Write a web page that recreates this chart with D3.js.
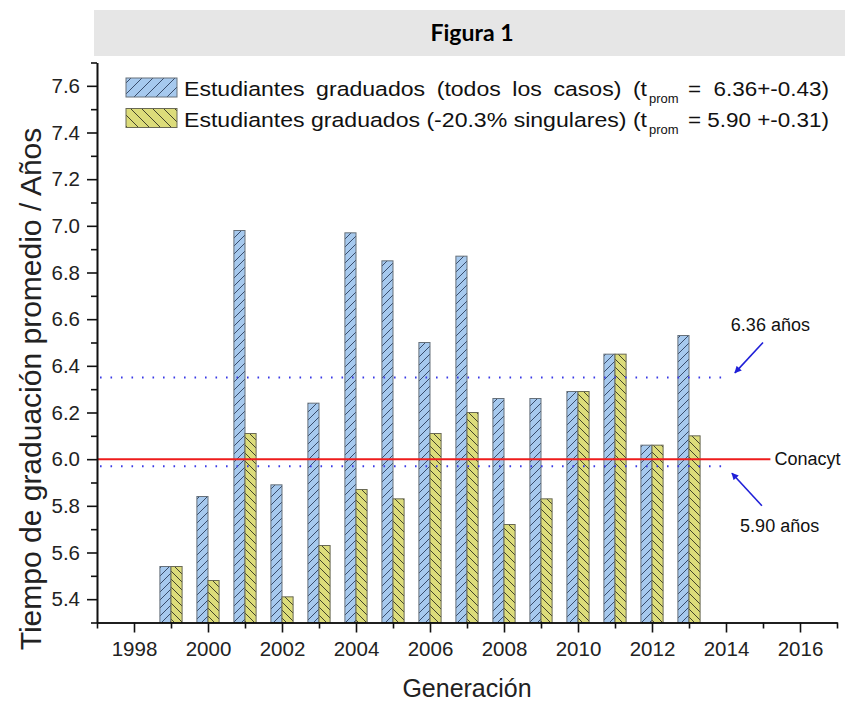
<!DOCTYPE html>
<html>
<head>
<meta charset="utf-8">
<script src="https://cdn.jsdelivr.net/npm/d3@7"></script>
<style>
  body { margin: 0; background: #fff; }
  svg { display: block; }
  text { font-family: "Liberation Sans", Arial, sans-serif; }
</style>
</head>
<body>
<svg id="chart"></svg>
<script>
// data
var years = [1999, 2000, 2001, 2002, 2003, 2004, 2005, 2006, 2007, 2008, 2009, 2010, 2011, 2012, 2013];
var todosLosCasos = [5.54, 5.84, 6.98, 5.89, 6.24, 6.97, 6.85, 6.50, 6.87, 6.26, 6.26, 6.29, 6.45, 6.06, 6.53];
var sinSingulares = [5.54, 5.48, 6.11, 5.41, 5.63, 5.87, 5.83, 6.11, 6.20, 5.72, 5.83, 6.29, 6.45, 6.06, 6.10];
var xTicks = [1998, 2000, 2002, 2004, 2006, 2008, 2010, 2012, 2014, 2016];
var xMinor = [1997, 1999, 2001, 2003, 2005, 2007, 2009, 2011, 2013, 2015, 2017];
var yTicks = [5.4, 5.6, 5.8, 6.0, 6.2, 6.4, 6.6, 6.8, 7.0, 7.2, 7.4, 7.6];
var yMinor = [5.3, 5.5, 5.7, 5.9, 6.1, 6.3, 6.5, 6.7, 6.9, 7.1, 7.3, 7.5, 7.7];
var conacyt = 6.0;
var promLines = [6.35, 5.97];
var legendLabels = [
    ['Estudiantes graduados (todos los casos) (t', 'prom', '= 6.36+-0.43)'],
    ['Estudiantes graduados (-20.3% singulares) (t', 'prom', '= 5.90 +-0.31)']
];
// annotations: [label, label year, label value, arrow from year/value, arrow to year/value]
var notes = [
    ['6.36 años', 2015.2, 6.55, 2015.0, 6.50, 2014.24, 6.37],
    ['5.90 años', 2015.45, 5.69, 2014.97, 5.80, 2014.16, 5.94]
];

var width = 845;
var height = 701;
var blue = '#a6c9ee';
var yellow = '#dcdc7a';

var svg = d3.select('#chart')
    .attr('width', width)
    .attr('height', height);

var x = d3.scaleLinear()
    .domain([1997, 2017])
    .range([97, 837]);

var y = d3.scaleLinear()
    .domain([5.3, 7.7])
    .range([622.5, 62.5]);

var defs = svg.append('defs');

function hatch(id, fill, size, forward, stroke) {
    var p = defs.append('pattern')
        .attr('id', id)
        .attr('patternUnits', 'userSpaceOnUse')
        .attr('width', size)
        .attr('height', size);
    p.append('rect')
        .attr('width', size)
        .attr('height', size)
        .attr('fill', fill);
    var s = size;
    var d = forward
        ? 'M-2,2 l4,-4 M0,' + s + ' l' + s + ',-' + s + ' M' + (s - 2) + ',' + (s + 2) + ' l4,-4'
        : 'M-2,' + (s - 2) + ' l4,4 M0,0 l' + s + ',' + s + ' M' + (s - 2) + ',-2 l4,4';
    p.append('path')
        .attr('d', d)
        .attr('stroke', stroke)
        .attr('stroke-width', 0.9);
}
hatch('hBlue', blue, 8, true, '#2d3f5e');
hatch('hYellow', yellow, 8, false, '#333322');
hatch('lBlue', blue, 11, true, '#2d3f5e');
hatch('lYellow', yellow, 11, false, '#333322');

// title box
svg.append('rect')
    .attr('x', 94)
    .attr('y', 10)
    .attr('width', width - 94)
    .attr('height', 46)
    .attr('fill', '#e6e6e6');

svg.append('text')
    .attr('x', 472)
    .attr('y', 41)
    .attr('text-anchor', 'middle')
    .style('font-family', 'Lato, "Open Sans", sans-serif')
    .attr('font-weight', 'bold')
    .attr('font-size', 23)
    .text('Figura 1');

// bars
var barW = 0.3;
var rows = years.map(function(yr, i) {
    return { year: yr, todos: todosLosCasos[i], sing: sinSingulares[i] };
});

svg.append('g')
    .selectAll('rect')
    .data(rows)
    .enter()
    .append('rect')
        .attr('x', d => x(d.year - barW))
        .attr('y', d => y(d.todos))
        .attr('width', d => x(d.year) - x(d.year - barW))
        .attr('height', d => y(5.3) - y(d.todos))
        .attr('fill', 'url(#hBlue)')
        .attr('stroke', '#66707a')
        .attr('stroke-width', 1);

svg.append('g')
    .selectAll('rect')
    .data(rows)
    .enter()
    .append('rect')
        .attr('x', d => x(d.year))
        .attr('y', d => y(d.sing))
        .attr('width', d => x(d.year + barW) - x(d.year))
        .attr('height', d => y(5.3) - y(d.sing))
        .attr('fill', 'url(#hYellow)')
        .attr('stroke', '#6a6a55')
        .attr('stroke-width', 1);

// reference lines
svg.append('g')
    .selectAll('line')
    .data(promLines)
    .enter()
    .append('line')
        .attr('x1', x(1997) + 3)
        .attr('x2', x(2013.9))
        .attr('y1', d => y(d))
        .attr('y2', d => y(d))
        .attr('stroke', '#3a3ae6')
        .attr('stroke-width', 2)
        .attr('stroke-dasharray', '1.6,8.9');

svg.append('line')
    .attr('x1', x(1997))
    .attr('x2', x(2015.2))
    .attr('y1', y(conacyt))
    .attr('y2', y(conacyt))
    .attr('stroke', '#ee1c1c')
    .attr('stroke-width', 2);

svg.append('text')
    .attr('x', x(2015.2) + 4)
    .attr('y', y(conacyt) + 6)
    .attr('font-size', 18)
    .attr('fill', '#111')
    .text('Conacyt');

// annotations with arrows
defs.append('marker')
    .attr('id', 'arrow')
    .attr('viewBox', '0 0 10 10')
    .attr('refX', 9)
    .attr('refY', 5)
    .attr('markerWidth', 8)
    .attr('markerHeight', 7)
    .attr('markerUnits', 'userSpaceOnUse')
    .attr('orient', 'auto')
  .append('path')
    .attr('d', 'M0,0 L10,5 L0,10 z')
    .attr('fill', '#1f1fd8');

notes.forEach(function(n) {
    svg.append('text')
        .attr('x', x(n[1]))
        .attr('y', y(n[2]))
        .attr('text-anchor', 'middle')
        .attr('font-size', 18)
        .attr('fill', '#111')
        .text(n[0]);
    svg.append('line')
        .attr('x1', x(n[3]))
        .attr('y1', y(n[4]))
        .attr('x2', x(n[5]))
        .attr('y2', y(n[6]))
        .attr('stroke', '#1f1fd8')
        .attr('stroke-width', 1.6)
        .attr('marker-end', 'url(#arrow)');
});

// axes
var xAxis = d3.axisBottom(x)
    .tickValues(xTicks)
    .tickFormat(d3.format('d'))
    .tickSize(10)
    .tickSizeOuter(0)
    .tickPadding(9);

var xMinorAxis = d3.axisBottom(x)
    .tickValues(xMinor)
    .tickFormat('')
    .tickSize(6)
    .tickSizeOuter(0);

var yAxis = d3.axisLeft(y)
    .tickValues(yTicks)
    .tickFormat(d3.format('.1f'))
    .tickSize(10)
    .tickSizeOuter(0)
    .tickPadding(7);

var yMinorAxis = d3.axisLeft(y)
    .tickValues(yMinor)
    .tickFormat('')
    .tickSize(6)
    .tickSizeOuter(0);

function styleAxis(g) {
    g.selectAll('path, line')
        .attr('stroke', '#111')
        .attr('stroke-width', 1.6);
    g.selectAll('text')
        .attr('fill', '#222')
        .style('font-family', '"Liberation Sans", Arial, sans-serif')
        .style('font-size', '20.5px');
}

svg.append('g')
    .attr('transform', 'translate(0,' + y(5.3) + ')')
    .call(xMinorAxis)
    .call(styleAxis);

svg.append('g')
    .attr('transform', 'translate(0,' + y(5.3) + ')')
    .call(xAxis)
    .call(styleAxis);

svg.append('g')
    .attr('transform', 'translate(' + x(1997) + ',0)')
    .call(yMinorAxis)
    .call(styleAxis);

svg.append('g')
    .attr('transform', 'translate(' + x(1997) + ',0)')
    .call(yAxis)
    .call(styleAxis);

// axis titles
svg.append('text')
    .attr('x', 467)
    .attr('y', 697)
    .attr('text-anchor', 'middle')
    .attr('font-size', 25)
    .attr('fill', '#222')
    .text('Generación');

svg.append('text')
    .attr('transform', 'translate(41,389) rotate(-90)')
    .attr('text-anchor', 'middle')
    .attr('font-size', 30)
    .attr('fill', '#222')
    .text('Tiempo de graduación promedio / Años');

// legend
var legend = svg.append('g');
var legendFills = ['url(#lBlue)', 'url(#lYellow)'];
var legendStrokes = ['#66707a', '#6a6a55'];
var legendFont = 20.5;

function legendText(str, xPos, yPos, size) {
    return legend.append('text')
        .attr('x', xPos)
        .attr('y', yPos)
        .attr('font-size', size)
        .attr('fill', '#111')
        .text(str);
}

var heads = [], tails = [];
legendLabels.forEach(function(lab, i) {
    var top = 78 + i * 30.5;
    legend.append('rect')
        .attr('x', 126)
        .attr('y', top)
        .attr('width', 51)
        .attr('height', 19)
        .attr('fill', legendFills[i])
        .attr('stroke', legendStrokes[i])
        .attr('stroke-width', 1);
    heads.push(legendText(lab[0], 184, top + 18, legendFont));
    legendText(lab[1], 649, top + 25, 13);
    tails.push(legendText(lab[2], 688, top + 18, legendFont));
});

// the original glyphs are a bit wider than Arial; line 2 sets the stretch,
// line 1 gets the extra gaps between words it has in the original
function fitRun(runs, target) {
    var k = target / runs[1].node().getComputedTextLength();
    var nat0 = runs[0].node().getComputedTextLength();
    var gaps = (runs[0].text().match(/ /g) || []).length;
    var ws = (target / k - nat0) / gaps;
    if (ws > 0) runs[0].attr('word-spacing', ws.toFixed(2));
    runs.forEach(function(r) {
        r.attr('textLength', target).attr('lengthAdjust', 'spacingAndGlyphs');
    });
}
fitRun(heads, 463);
fitRun(tails, 141);
</script>
</body>
</html>
